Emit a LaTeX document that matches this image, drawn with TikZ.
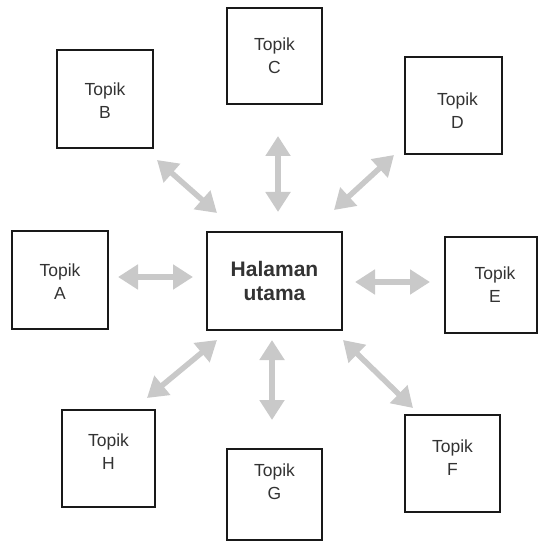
\documentclass[tikz,border=0pt]{standalone}
\usepackage{fontspec}
\setmainfont{Liberation Sans}
\usetikzlibrary{arrows.meta}
\begin{document}
\begin{tikzpicture}[x=1pt,y=-1pt,
  box/.style={draw=black!90, line width=2.6pt, inner sep=0pt, align=center,
    text=black!80},
  tt/.style={align=center, text=black!80, inner sep=0pt, font=\fontsize{17.5}{23}\selectfont},
  mainbox/.style={box, font=\fontsize{21}{24}\selectfont\bfseries},
  arr/.style={draw=gray!42, line width=5.5pt,
    {Triangle[length=20pt,width=24pt]}-{Triangle[length=20pt,width=24pt]}}]
\useasboundingbox (0,0) rectangle (538,545);
\node[mainbox, minimum width=135pt, minimum height=98pt] (M) at (274.5,281) {Halaman\\utama};
\node[box, minimum width=96pt, minimum height=98pt,
  label={[tt, yshift=-2pt]center:Topik\\B}] (B) at (105,99) {};
\node[box, minimum width=95pt, minimum height=96pt,
  label={[tt]center:Topik\\C}] (C) at (274.5,56) {};
\node[box, minimum width=97pt, minimum height=97pt,
  label={[tt, xshift=4pt, yshift=-5pt]center:Topik\\D}] (D) at (453.5,105.5) {};
\node[box, minimum width=96pt, minimum height=98pt,
  label={[tt, yshift=-2pt]center:Topik\\A}] (A) at (60,280) {};
\node[box, minimum width=92pt, minimum height=96pt,
  label={[tt, xshift=4pt]center:Topik\\E}] (E) at (491,285) {};
\node[box, minimum width=93pt, minimum height=97pt,
  label={[tt, yshift=7pt]center:Topik\\H}] (H) at (108.5,458.5) {};
\node[box, minimum width=95pt, minimum height=91pt,
  label={[tt, yshift=13pt]center:Topik\\G}] (G) at (274.5,494.5) {};
\node[box, minimum width=95pt, minimum height=97pt,
  label={[tt, yshift=6pt]center:Topik\\F}] (F) at (452.5,463.5) {};
% arrow end points
\coordinate (a1) at (118,277); \coordinate (a2) at (193,277);
\coordinate (c1) at (278,136); \coordinate (c2) at (278,212);
\coordinate (b1) at (157,160); \coordinate (b2) at (217,213);
\coordinate (d1) at (394,155); \coordinate (d2) at (334,210);
\coordinate (e1) at (355,282); \coordinate (e2) at (430,282);
\coordinate (h1) at (147,398); \coordinate (h2) at (217,340);
\coordinate (g1) at (272,340); \coordinate (g2) at (272,420);
\coordinate (f1) at (343,340); \coordinate (f2) at (413,408);
\draw[arr] (a1) -- (a2);
\draw[arr] (c1) -- (c2);
\draw[arr] (b1) -- (b2);
\draw[arr] (d1) -- (d2);
\draw[arr] (e1) -- (e2);
\draw[arr] (h1) -- (h2);
\draw[arr] (g1) -- (g2);
\draw[arr] (f1) -- (f2);
\end{tikzpicture}
\end{document}
